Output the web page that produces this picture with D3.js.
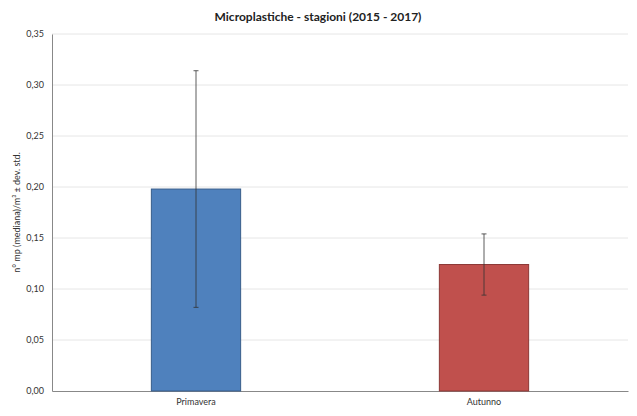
<!DOCTYPE html>
<html><head><meta charset="utf-8">
<script src="https://cdn.jsdelivr.net/npm/d3@7"></script>
<style>body{margin:0;background:#fff}text{font-family:Lato,"Open Sans",sans-serif}</style>
</head><body><svg id="c" width="637" height="416"></svg>
<script>
const categories = ["Primavera","Autunno"];
const values = [0.198, 0.124];
const errors = [0.116, 0.030];
const colors = ["#4f81bd","#c0504d"];
const strokes = ["#385d8a","#8c3836"];
const yTicks = [0,0.05,0.10,0.15,0.20,0.25,0.30,0.35];

const svg = d3.select("#c");
const m = {l:52, r:9, t:34, b:25};
const W = 637, H = 416;
const x = d3.scaleBand().domain(categories).range([m.l, W-m.r]).paddingInner(0.69).paddingOuter(0.345);
const y = d3.scaleLinear().domain([0,0.35]).range([H-m.b, m.t]);
const fmt = d => d.toFixed(2).replace(".", ",");

svg.append("g").selectAll("line").data(yTicks.slice(1)).join("line")
  .attr("x1", m.l).attr("x2", W-m.r).attr("y1", d=>y(d)).attr("y2", d=>y(d))
  .attr("stroke", "#e6e6e6").attr("stroke-width", 1);

const ya = svg.append("g").attr("transform", `translate(${m.l},0)`)
  .call(d3.axisLeft(y).tickValues(yTicks).tickFormat(fmt).tickSize(0).tickPadding(8));
ya.select(".domain").attr("stroke", "#888");
ya.selectAll("text").attr("font-size", 9).attr("fill", "#333");

const xa = svg.append("g").attr("transform", `translate(0,${H-m.b})`)
  .call(d3.axisBottom(x).tickSize(0).tickPadding(8));
xa.select(".domain").attr("stroke", "#888");
xa.selectAll("text").attr("font-size", 9).attr("fill", "#333");

svg.append("g").selectAll("rect").data(categories).join("rect")
  .attr("x", d=>x(d)).attr("width", x.bandwidth())
  .attr("y", (d,i)=>y(values[i])).attr("height", (d,i)=>y(0)-y(values[i]))
  .attr("fill", (d,i)=>colors[i]).attr("stroke", (d,i)=>strokes[i]).attr("stroke-width", 1);

const eg = svg.append("g").attr("stroke", "#333").attr("stroke-width", 0.8);
categories.forEach((c,i)=>{
  const cx = x(c)+x.bandwidth()/2;
  const lo = y(values[i]-errors[i]), hi = y(values[i]+errors[i]);
  eg.append("line").attr("x1",cx).attr("x2",cx).attr("y1",lo).attr("y2",hi);
  eg.append("line").attr("x1",cx-2.5).attr("x2",cx+2.5).attr("y1",lo).attr("y2",lo);
  eg.append("line").attr("x1",cx-2.5).attr("x2",cx+2.5).attr("y1",hi).attr("y2",hi);
});

svg.append("text").attr("x", 318).attr("y", 21).attr("text-anchor","middle")
  .attr("font-size", 12).attr("font-weight","bold").attr("fill","#222")
  .text("Microplastiche - stagioni (2015 - 2017)");
svg.append("text").attr("transform", `translate(20,${(m.t+H-m.b)/2}) rotate(-90)`)
  .attr("text-anchor","middle").attr("font-size", 9).attr("fill","#333")
  .text("n° mp (mediana)/m³ ± dev. std.");
</script></body></html>
